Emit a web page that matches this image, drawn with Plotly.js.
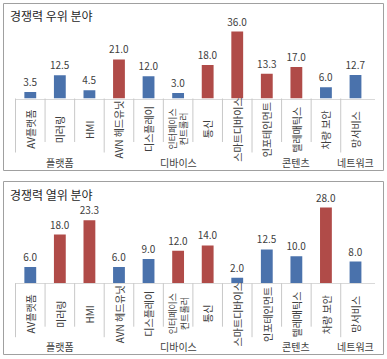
<!DOCTYPE html>
<html>
<head>
<meta charset="utf-8">
<script src="https://cdn.plot.ly/plotly-3.0.1.min.js"></script>
<style>
html,body{margin:0;padding:0;background:#fff;}
#chart{width:387px;height:359px;}
</style>
</head>
<body>
<div id="chart"></div>
<script>
// ---- data ----
const categories = ['AV플랫폼','미러링','HMI','AVN 헤드유닛','디스플레이','인터페이스<br>컨트롤러','통신','스마트디바이스','인포테인먼트','텔레매틱스','차량 보안','망서비스'];
const groups = ['플랫폼','플랫폼','플랫폼','디바이스','디바이스','디바이스','디바이스','디바이스','콘텐츠','콘텐츠','콘텐츠','네트워크'];
const strongTitle = '경쟁력 우위 분야';
const strongValues = [3.5, 12.5, 4.5, 21.0, 12.0, 3.0, 18.0, 36.0, 13.3, 17.0, 6.0, 12.7];
const strongHighlight = [0,0,0,1,0,0,1,1,1,1,0,0];
const weakTitle = '경쟁력 열위 분야';
const weakValues = [6.0, 18.0, 23.3, 6.0, 9.0, 12.0, 14.0, 2.0, 12.5, 10.0, 28.0, 8.0];
const weakHighlight = [0,1,1,0,0,1,1,0,0,0,1,0];

// ---- layout helpers (pixel -> paper) ----
const W = 387, H = 359;
const FONT = '"Noto Sans CJK KR", "Noto Sans", sans-serif';
const BLUE = '#4A72AC', RED = '#B04B48';
const px = x => x / W;
const py = y => 1 - y / H;

const panels = [
  {title: strongTitle, values: strongValues, hl: strongHighlight, box:[3.5,3.5,383.5,170.5], base:98.5, top:24.1, range:[0,40], titleY:15.5, xa:'x', ya:'y'},
  {title: weakTitle, values: weakValues, hl: weakHighlight, box:[3.5,181.5,383.5,354.5], base:283.2, top:202.2, range:[0,30], titleY:194.5, xa:'x2', ya:'y2'}
];

const traces = [];
const shapes = [];
const annotations = [];
const layout = {
  width: W, height: H,
  margin: {l:0, r:0, t:0, b:0},
  paper_bgcolor: '#fff', plot_bgcolor: 'rgba(0,0,0,0)',
  showlegend: false,
  font: {family: FONT, color: '#404040'},
  bargap: 0.6
};

// group boundaries
const groupStart = categories.map((c, i) => i === 0 || groups[i] !== groups[i-1]);
const groupNames = [];
groups.forEach((g, i) => { if (groupStart[i]) groupNames.push({name: g, start: i, end: i}); else groupNames[groupNames.length-1].end = i; });

panels.forEach((p, k) => {
  const sfx = k === 0 ? '' : '2';
  traces.push({
    type: 'bar', x: categories, y: p.values,
    xaxis: p.xa, yaxis: p.ya,
    marker: {color: p.hl.map(h => h ? RED : BLUE)},
    text: p.values.map(v => v.toFixed(1)),
    textposition: 'outside', cliponaxis: false, constraintext: 'none',
    textfont: {family: FONT, size: 10, color: '#404040'},
    hoverinfo: 'skip'
  });
  layout['xaxis' + sfx] = {
    domain: [px(15), px(375)], anchor: p.ya,
    type: 'category', categoryorder: 'array', categoryarray: categories,
    showticklabels: false, ticks: '', showgrid: false, zeroline: false,
    showline: true, linecolor: '#d9d9d9', linewidth: 1, fixedrange: true
  };
  layout['yaxis' + sfx] = {
    domain: [py(p.base), py(p.top)], anchor: p.xa, range: p.range,
    visible: false, showgrid: false, zeroline: false, fixedrange: true
  };
  // panel border
  shapes.push({type:'rect', xref:'paper', yref:'paper', x0:px(p.box[0]), x1:px(p.box[2]), y0:py(p.box[1]), y1:py(p.box[3]), line:{color:'#a0a0a0', width:1}});
  // category dividers
  categories.forEach((c, i) => {
    const long = groupStart[i];
    shapes.push({type:'line', xref:p.xa, yref:'paper', x0:i-0.5, x1:i-0.5, y0:py(p.base), y1:py(p.base + (long ? 54 : 43.5)), line:{color:'#c8c8c8', width:1}});
    annotations.push({xref:p.xa, yref:'paper', x:i, y:py(p.base + 31), text:c, textangle:-90, showarrow:false, borderpad:0,
      xanchor:'center', yanchor:'middle', font:{family:FONT, size: c.indexOf('<br>') >= 0 ? 9 : 10, color:'#404040'}});
  });
  groupNames.forEach(g => {
    annotations.push({xref:p.xa, yref:'paper', x:(g.start + g.end)/2, y:py(p.base + 63.5), text:g.name, showarrow:false, borderpad:0,
      xanchor:'center', yanchor:'middle', font:{family:FONT, size:10, color:'#404040'}});
  });
  annotations.push({xref:'paper', yref:'paper', x:px(9), y:py(p.titleY), text:p.title, showarrow:false, borderpad:0,
    xanchor:'left', yanchor:'middle', font:{family:FONT, size:12, color:'#262626'}});
});

layout.shapes = shapes;
layout.annotations = annotations;
Plotly.newPlot('chart', traces, layout, {displayModeBar:false, staticPlot:true});
</script>
</body>
</html>
